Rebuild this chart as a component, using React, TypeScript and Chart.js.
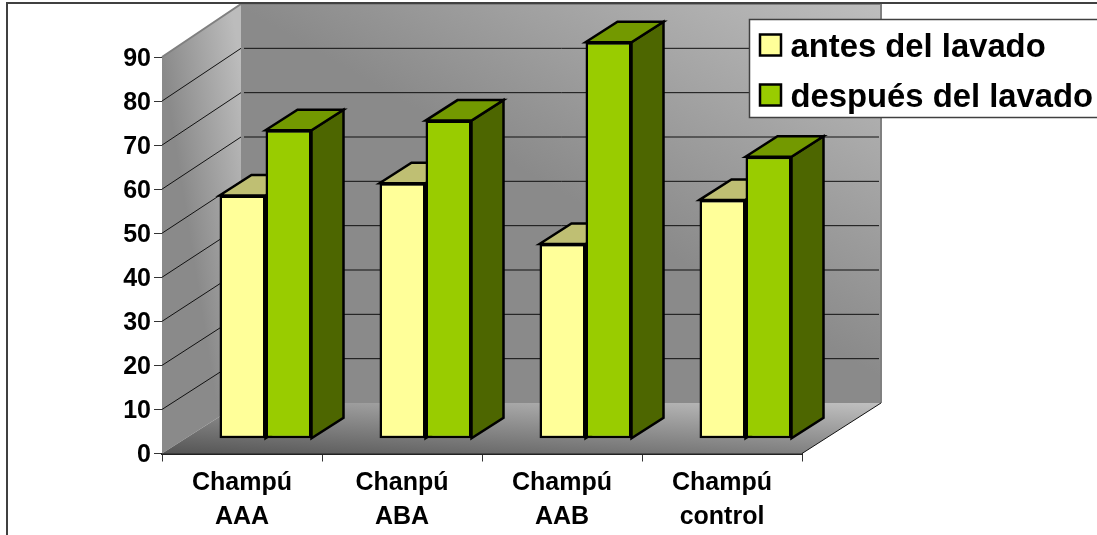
import React, { useEffect, useRef } from "react";
import { Chart, registerables } from "chart.js";

Chart.register(...registerables);

const categories = [["Champú", "AAA"], ["Chanpú", "ABA"], ["Champú", "AAB"], ["Champú", "control"]];
const antes = [55.2, 58, 44.2, 54.2];
const despues = [70, 72.2, 90, 64];
const seriesNames = ["antes del lavado", "después del lavado"];
const yTicks = [0, 10, 20, 30, 40, 50, 60, 70, 80, 90];

const FRONT = ["#FFFF99", "#99CC00"];
const TOP = ["#BFBF73", "#739900"];
const SIDE = ["#808050", "#4D6600"];
const DX = 32;
const DY = -20.5;
const SHIFT_X = 23.5;
const SHIFT_Y = -14.8;
const WALL_DX = 79;

function wallGradient(ctx: CanvasRenderingContext2D, x0: number, y0: number, x1: number, y1: number, a: string, b: string) {
  const g = ctx.createLinearGradient(x0, y0, x1, y1);
  g.addColorStop(0, a);
  g.addColorStop(1, b);
  return g;
}

const scene3d = {
  id: "scene3d",
  beforeDatasetsDraw(chart: any) {
    const { ctx, chartArea: a, scales } = chart;
    const y = scales.y;
    const backY = (v: number) => 403 + (y.getPixelForValue(v) - y.bottom) * (399 / (y.bottom - y.top));
    const xl = a.left, xr = a.right, yb = y.bottom, yt = y.top;
    const bl = xl + WALL_DX, br = xr + WALL_DX;
    const by = backY(0), bt = backY(90);
    ctx.save();
    // back wall
    ctx.fillStyle = wallGradient(ctx, bl + 4, bt + 6, bl + 172, bt - 285, "#8a8a8a", "#c0c0c0");
    ctx.fillRect(bl, bt, br - bl, by - bt);
    // left wall
    ctx.fillStyle = wallGradient(ctx, xl, yt + 3, xl + 76, yt - 9, "#8a8a8a", "#bcbcbc");
    ctx.beginPath();
    ctx.moveTo(xl, yt); ctx.lineTo(bl, bt); ctx.lineTo(bl, by); ctx.lineTo(xl, yb); ctx.closePath();
    ctx.fill();
    // floor
    ctx.fillStyle = wallGradient(ctx, xl, yb, xl + 5, yb - 90, "#555555", "#c0c0c0");
    ctx.beginPath();
    ctx.moveTo(xl, yb); ctx.lineTo(bl, by); ctx.lineTo(br, by); ctx.lineTo(xr, yb); ctx.closePath();
    ctx.fill();
    // wall edges
    ctx.strokeStyle = "#808080";
    ctx.lineWidth = 2;
    ctx.beginPath();
    ctx.moveTo(xl, yt); ctx.lineTo(bl, bt); ctx.lineTo(br, bt); ctx.lineTo(br, by);
    ctx.stroke();
    // gridlines
    ctx.strokeStyle = "#111111";
    ctx.lineWidth = 1;
    yTicks.forEach((v) => {
      if (v === 0 || v === 90) return;
      ctx.beginPath();
      ctx.moveTo(xl, y.getPixelForValue(v));
      ctx.lineTo(bl, backY(v));
      ctx.moveTo(bl + 3, backY(v));
      ctx.lineTo(br - 2, backY(v));
      ctx.stroke();
    });
    // floor front-right edge
    ctx.beginPath();
    ctx.moveTo(xr, yb); ctx.lineTo(br, by);
    ctx.stroke();
    // bar side and top faces: yellow first, green over it; the fronts are drawn by the library afterwards
    ctx.translate(SHIFT_X, SHIFT_Y);
    ctx.strokeStyle = "#000000";
    ctx.lineWidth = 2.5;
    [0, 1].forEach((idx) => {
      chart.getDatasetMeta(idx).data.forEach((bar: any) => {
        const l = bar.x - bar.width / 2;
        const r = bar.x + bar.width / 2;
        const t = bar.y;
        const b = bar.base;
        ctx.fillStyle = SIDE[idx];
        ctx.beginPath();
        ctx.moveTo(r, t); ctx.lineTo(r + DX, t + DY); ctx.lineTo(r + DX, b + DY); ctx.lineTo(r, b); ctx.closePath();
        ctx.fill(); ctx.stroke();
        ctx.fillStyle = TOP[idx];
        ctx.beginPath();
        ctx.moveTo(l, t); ctx.lineTo(l + DX, t + DY); ctx.lineTo(r + DX, t + DY); ctx.lineTo(r, t); ctx.closePath();
        ctx.fill(); ctx.stroke();
      });
    });
    ctx.restore();
  },
  beforeDatasetDraw(chart: any) {
    chart.ctx.save();
    chart.ctx.translate(SHIFT_X, SHIFT_Y);
  },
  afterDatasetDraw(chart: any) {
    chart.ctx.restore();
  },
  afterDraw(chart: any) {
    const { ctx, width, height } = chart;
    ctx.save();
    // chart frame
    ctx.strokeStyle = "#404040";
    ctx.lineWidth = 2;
    ctx.beginPath();
    ctx.moveTo(7, height); ctx.lineTo(7, 3); ctx.lineTo(width, 3);
    ctx.stroke();
    // legend
    ctx.fillStyle = "#ffffff";
    ctx.fillRect(749.5, 19.5, 360, 98);
    ctx.lineWidth = 1.5;
    ctx.strokeRect(749.5, 19.5, 360, 98);
    ctx.font = "bold 32.8px 'Liberation Sans', Arial, sans-serif";
    ctx.textBaseline = "middle";
    seriesNames.forEach((name, i) => {
      const top = 34.5 + i * 50;
      ctx.fillStyle = FRONT[i];
      ctx.strokeStyle = "#000000";
      ctx.lineWidth = 2.5;
      ctx.fillRect(760, top, 21, 21);
      ctx.strokeRect(760, top, 21, 21);
      ctx.fillStyle = "#000000";
      ctx.fillText(name, 790.5, top + 13);
    });
    ctx.restore();
  },
};

export default function App() {
  const ref = useRef<HTMLCanvasElement>(null);
  useEffect(() => {
    const font = { family: "'Liberation Sans', Arial, sans-serif", size: 25, weight: "bold" as const, lineHeight: 1.38 };
    const chart = new Chart(ref.current!, {
      type: "bar",
      data: {
        labels: categories as any,
        datasets: [
          { label: seriesNames[0], data: antes, backgroundColor: FRONT[0], borderColor: "#000", borderWidth: 2.5, borderSkipped: false },
          { label: seriesNames[1], data: despues, backgroundColor: FRONT[1], borderColor: "#000", borderWidth: 2.5, borderSkipped: false },
        ],
      },
      options: {
        responsive: false,
        animation: false,
        devicePixelRatio: 1,
        layout: { padding: { left: 0, top: 57, right: 295, bottom: 0 } },
        plugins: { legend: { display: false }, tooltip: { enabled: false } },
        datasets: { bar: { categoryPercentage: 0.575, barPercentage: 1 } },
        scales: {
          x: {
            grid: { drawOnChartArea: false, drawTicks: true, tickLength: 8, color: "#333333", offset: true },
            border: { color: "#222222", width: 2 },
            ticks: { font, color: "#000", padding: 4, maxRotation: 0, autoSkip: false },
            afterFit: (s: any) => { s.height = 81.5; },
          },
          y: {
            min: 0,
            max: 90,
            grid: { drawOnChartArea: false, drawTicks: true, tickLength: 8, color: "#333333" },
            border: { color: "#333333", width: 1 },
            ticks: { font, color: "#000", stepSize: 10, padding: 3, labelOffset: 2 },
            afterFit: (s: any) => { s.width = 162; },
          },
        },
      },
      plugins: [scene3d],
    } as any);
    return () => chart.destroy();
  }, []);
  return (
    <canvas
      ref={ref}
      width={1097}
      height={535}
      style={{ position: "absolute", left: 0, top: 0, width: 1097, height: 535, display: "block" }}
    />
  );
}
